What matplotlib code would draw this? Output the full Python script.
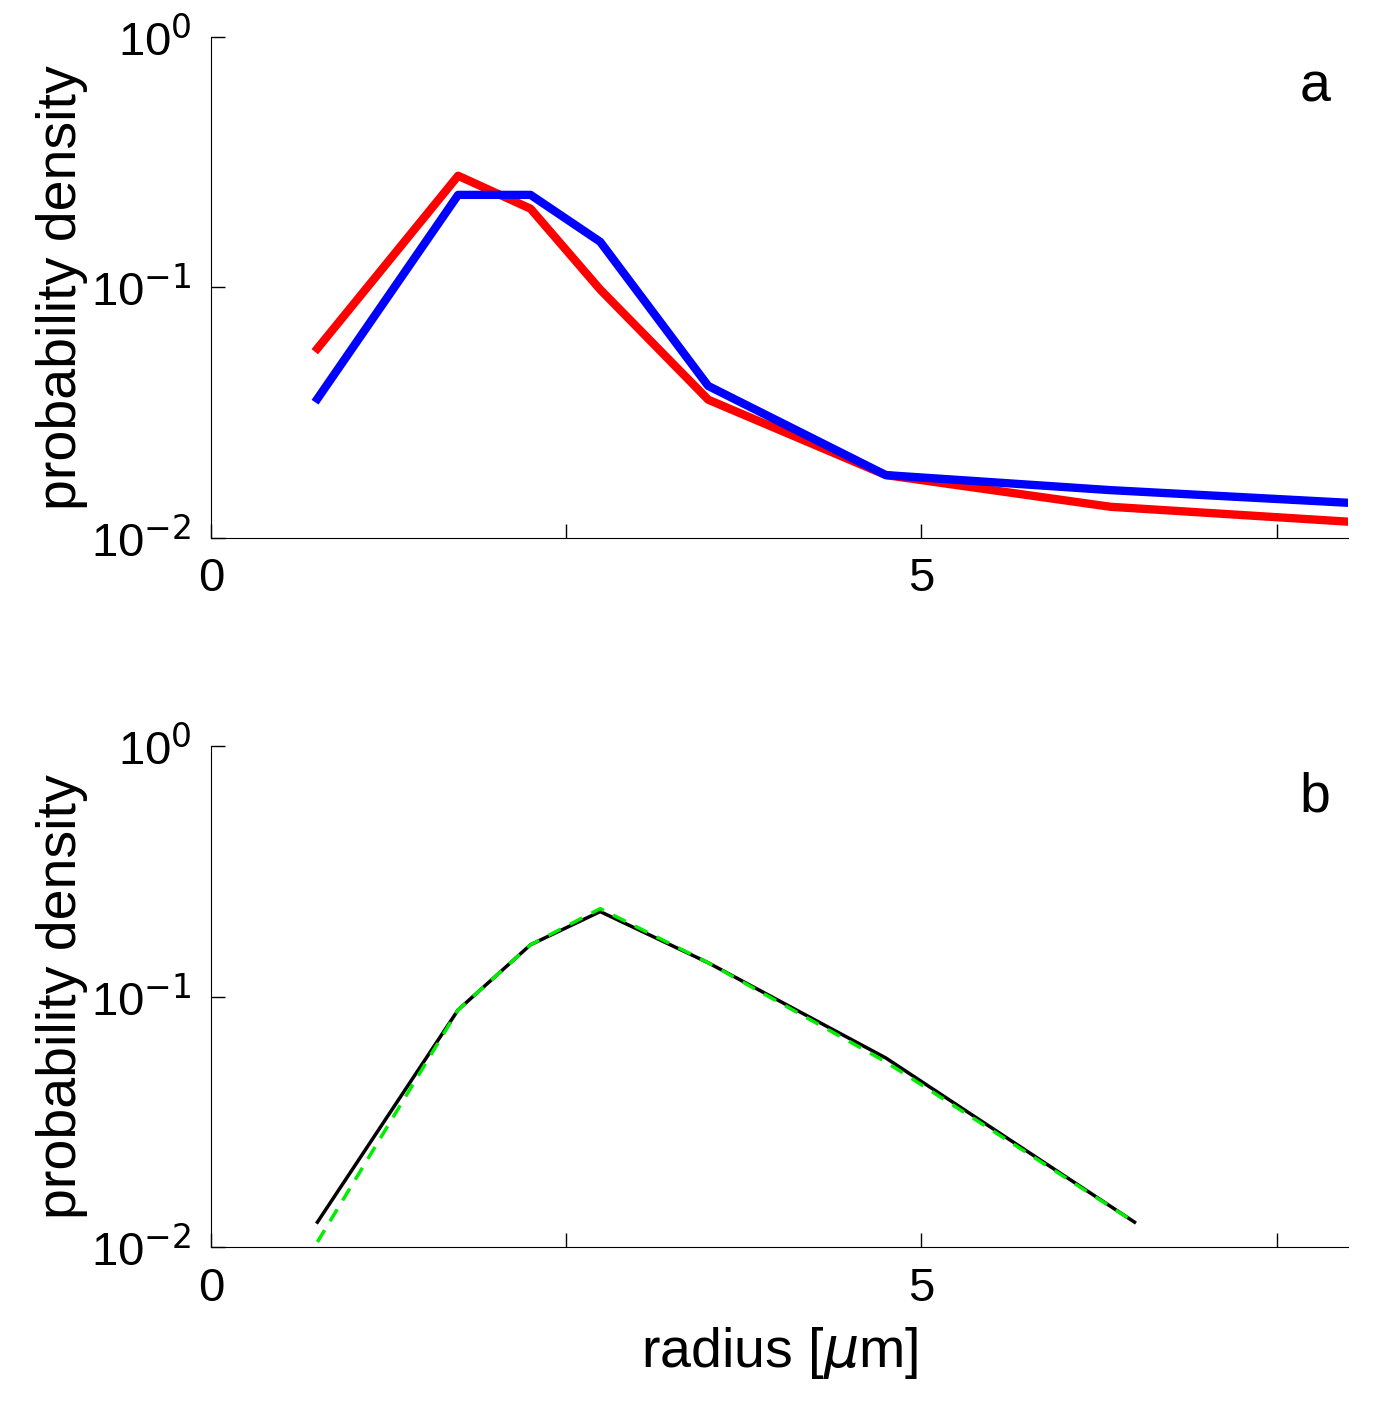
import matplotlib
matplotlib.use("Agg")
import matplotlib.pyplot as plt

plt.rcParams["font.family"] = "Liberation Sans"

# panel a
x_red = [0.75, 1.74, 2.25, 2.74, 3.5, 4.75, 6.33, 8.0]
y_red = [0.057, 0.279, 0.206, 0.098, 0.0356, 0.0178, 0.0133, 0.0116]
x_blue = [0.75, 1.74, 2.25, 2.74, 3.5, 4.75, 6.33, 8.0]
y_blue = [0.0359, 0.234, 0.234, 0.152, 0.0404, 0.0178, 0.0155, 0.0138]

# panel b
x_black = [0.75, 1.74, 2.25, 2.74, 3.5, 4.75, 6.5]
y_black = [0.0126, 0.0887, 0.1615, 0.219, 0.1368, 0.057, 0.0126]
x_green = [0.75, 1.74, 2.25, 2.74, 3.5, 4.75, 6.5]
y_green = [0.0105, 0.0887, 0.1615, 0.225, 0.1368, 0.055, 0.0126]

fig = plt.figure(figsize=(13.78, 14.19), dpi=100)
ax1 = fig.add_axes([0.153, 0.621, 0.825, 0.353])
ax2 = fig.add_axes([0.153, 0.121, 0.825, 0.353])

ax1.plot(x_red, y_red, color="#ff0000", lw=6)
ax1.plot(x_blue, y_blue, color="#0000ff", lw=6)
ax2.plot(x_black, y_black, color="black", lw=2.5)
ax2.plot(x_green, y_green, color="#00ee00", lw=2.5, ls=(0, (4, 3)))

for ax, lab in [(ax1, "a"), (ax2, "b")]:
    ax.set_yscale("log")
    ax.set_ylim(0.01, 1)
    ax.set_xlim(0, 8)
    ax.set_xticks([0, 2.5, 5, 7.5])
    ax.set_xticklabels(["0", "", "5", ""])
    ax.set_yticks([0.01, 0.1, 1])
    ax.set_yticklabels([r"10$^{-2}$", r"10$^{-1}$", r"10$^{0}$"])
    ax.minorticks_off()
    ax.tick_params(direction="in", labelsize=34, length=10, width=1, pad=14)
    for s in ["top", "right"]:
        ax.spines[s].set_visible(False)
    ax.set_ylabel("probability density", fontsize=40, labelpad=2)
    ax.text(0.985, 0.95, lab, transform=ax.transAxes, fontsize=40,
            ha="right", va="top")

ax2.set_xlabel(r"radius [$\mu$m]", fontsize=40, labelpad=10)
fig.savefig("out.png")
